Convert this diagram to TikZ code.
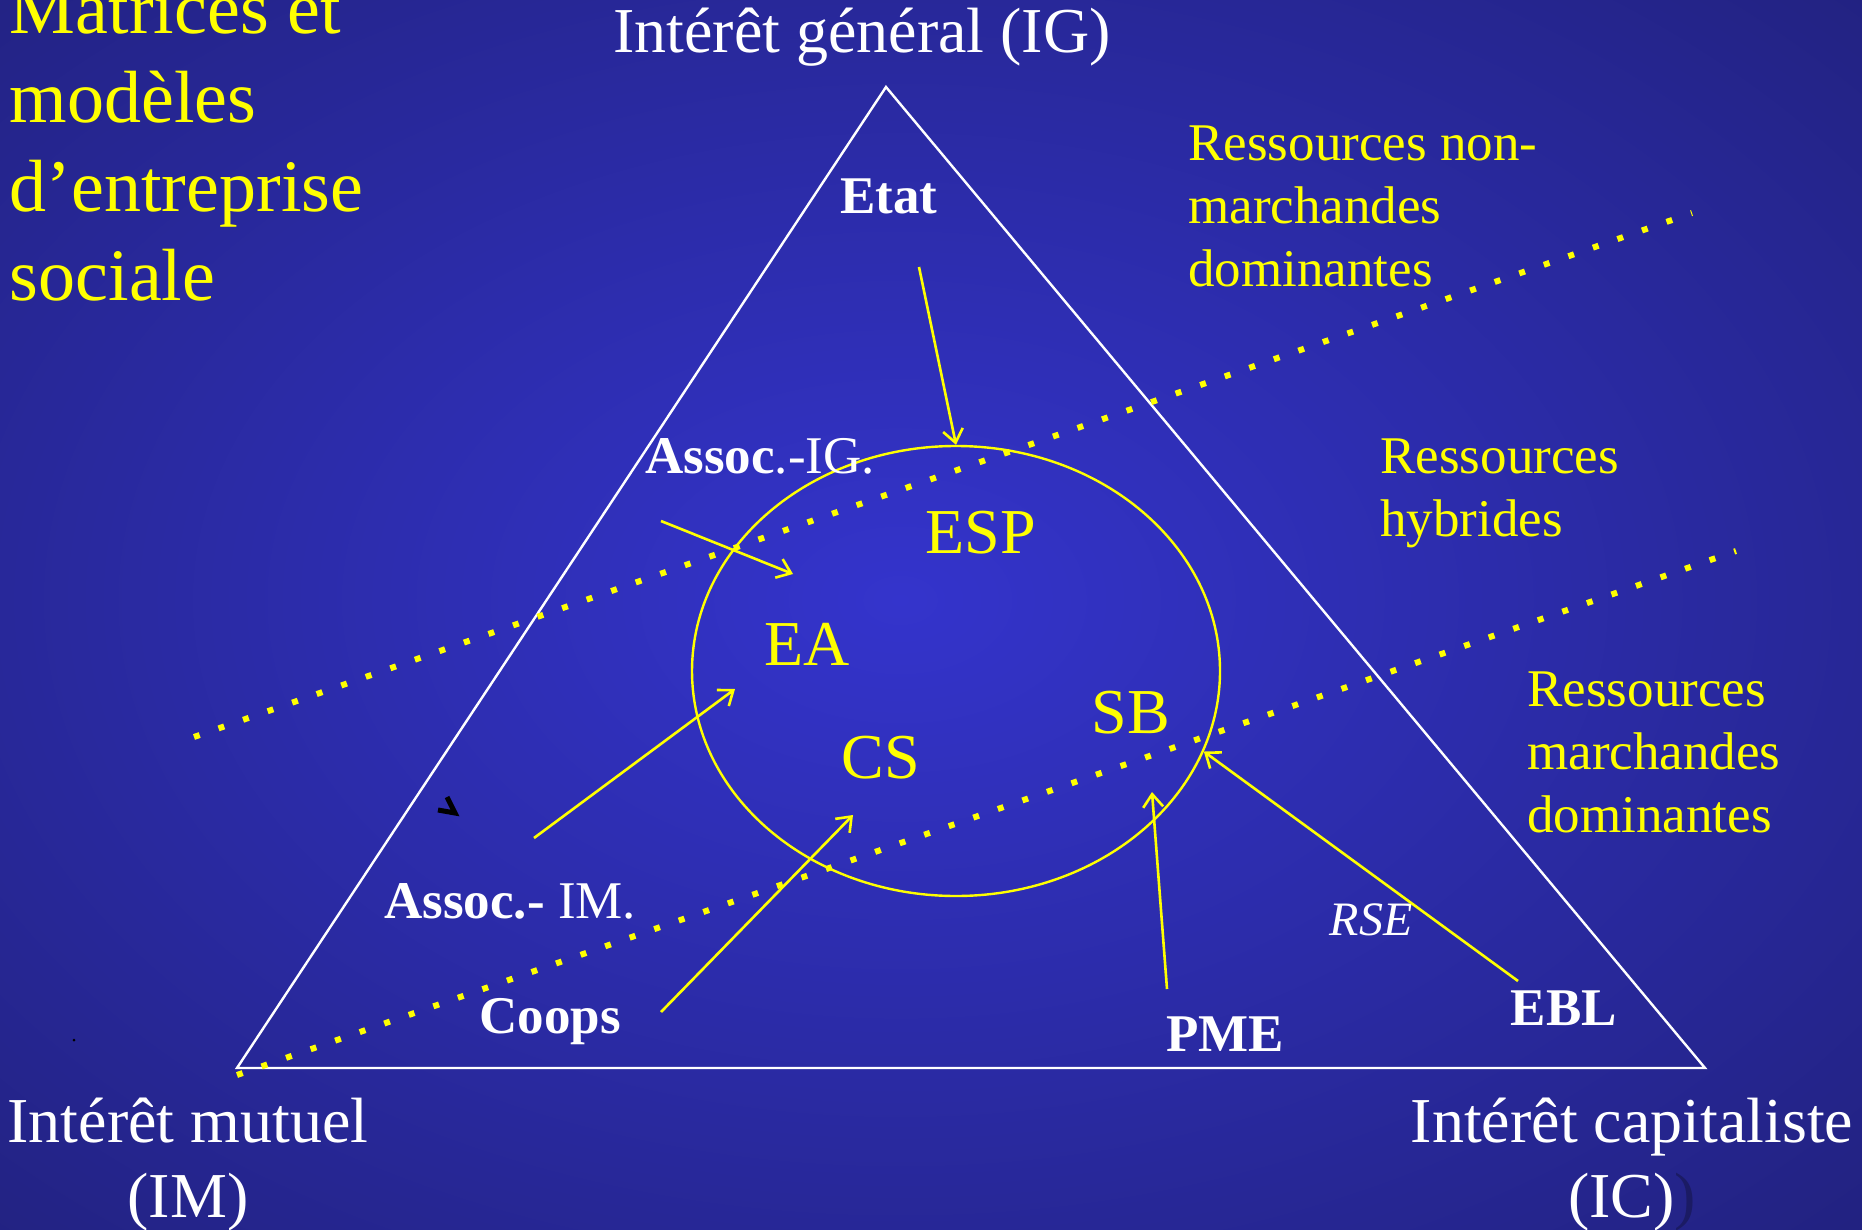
\documentclass[tikz,border=0pt]{standalone}
\usepackage{fontspec}
\setmainfont{Liberation Serif}
\usepackage{xcolor}
\usepackage{tikz}
\usetikzlibrary{positioning,shapes.geometric,arrows.meta}
\definecolor{slidedark}{RGB}{27,27,100}
\definecolor{slidelight}{RGB}{52,52,204}
\definecolor{slideyellow}{RGB}{255,255,0}

\begin{document}
\begin{tikzpicture}[x=0.5pt, y=-0.5pt]
            \tikzstyle{corner} = [white, inner sep=0, align=center, font=\fontsize{32}{37.5}\selectfont]
            \tikzstyle{actor} = [white, inner sep=0, font=\fontsize{26.5}{31.5}\selectfont\bfseries]
            \tikzstyle{model} = [slideyellow, inner sep=0, font=\fontsize{32}{38}\selectfont]
            \tikzstyle{resource} = [slideyellow, inner sep=0, align=left, font=\fontsize{26.5}{31.5}\selectfont]
            \tikzstyle{link} = [slideyellow, line width=1.3pt, -{Straight Barb[length=6.5pt,width=10pt]}]
            \tikzstyle{zone} = [slideyellow, line width=3pt, dash pattern=on 3pt off 10pt]

            \useasboundingbox (0,0) rectangle (1862,1230);
            \begin{scope}
                \clip (0,0) rectangle (1862,1230);
                \shade [inner color=slidelight, outer color=slidedark] (-962,-630) rectangle (2762,1830);
            \end{scope}

            \coordinate (T0) at (886,87);
            \coordinate (T1) at (237,1068);
            \coordinate (T2) at (1705,1068);
            \draw [white, line width=1.2pt] (T0) -- (T1) -- (T2) -- cycle;

            \coordinate (Z0) at (194,737);
            \coordinate (Z1) at (1692,213);
            \coordinate (Z2) at (237,1075);
            \coordinate (Z3) at (1736,551);
            \draw [zone] (Z0) -- (Z1);
            \draw [zone] (Z2) -- (Z3);

            \node [draw=slideyellow, line width=1.2pt, ellipse, minimum width=264pt, minimum height=225pt, inner sep=0] (S) at (956,671) {};

            \node [slideyellow, inner sep=0, anchor=base west, align=left, font=\fontsize{37}{44.5}\selectfont] (title) at (9.5,300) {Matrices et\\modèles\\d’entreprise\\sociale};

            \node [corner, anchor=base] (IG) at (862,53) {Intérêt général (IG)};
            \node [corner, anchor=base] (IM) at (188,1217) {Intérêt mutuel\\(IM)};
            \node [corner, anchor=base] (IC) at (1632,1217) {Intérêt capitaliste\\(IC)\textcolor{slidedark}{)}};

            \node [resource, anchor=base west] (R0) at (1188,286) {Ressources non-\\marchandes\\dominantes};
            \node [resource, anchor=base west] (R1) at (1380,536) {Ressources\\hybrides};
            \node [resource, anchor=base west] (R2) at (1527,832) {Ressources\\marchandes\\dominantes};

            \node [model, anchor=base] (ESP) at (981,553) {ESP};
            \node [model, anchor=base] (EA) at (807,665) {EA};
            \node [model, anchor=base] (CS) at (881,778) {CS};
            \node [model, anchor=base] (SB) at (1131,733) {SB};

            \node [actor, anchor=base] (Etat) at (889,214) {Etat};
            \node [actor, anchor=base west] (AIG) at (645,473) {Assoc\mdseries.-IG.};
            \node [actor, anchor=base west] (AIM) at (384,918) {Assoc.-\mdseries\ IM.};
            \node [actor, anchor=base] (Coops) at (550,1033) {Coops};
            \node [actor, anchor=base] (PME) at (1225,1051) {PME};
            \node [actor, anchor=base] (EBL) at (1564,1025) {EBL};
            \node [actor, anchor=base, font=\fontsize{24}{28}\selectfont\itshape] (RSE) at (1371,935) {RSE};

            \coordinate (a0) at (919,267);
            \coordinate (a1) at (661,521);
            \coordinate (b1) at (793,574);
            \coordinate (a2) at (534,838);
            \coordinate (b2) at (735,689);
            \coordinate (a3) at (661,1012);
            \coordinate (b3) at (853,815);
            \coordinate (a4) at (1167,989);
            \coordinate (b4) at (1152,792);
            \coordinate (a5) at (1518,981);

            \draw [link] (a0) to (S.north);
            \draw [link] (a1) to (b1);
            \draw [link] (a2) to (b2);
            \draw [link] (a3) to (b3);
            \draw [link] (a4) to (b4);
            \draw [link] (a5) to (S.-18);

            \draw [black, line width=2.5pt] (447,797) -- (455,813) -- (438,810);
            \fill [black] (74,1040) circle (1.5);
\end{tikzpicture}
\end{document}
